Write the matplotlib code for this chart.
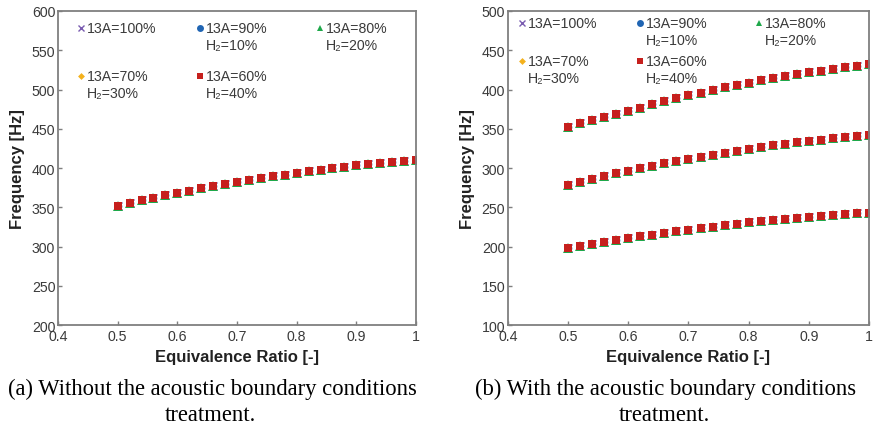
import matplotlib.pyplot as plt

plt.rcParams['font.family'] = ['Liberation Sans', 'DejaVu Sans']

# equivalence ratio
phi = [0.50, 0.52, 0.54, 0.56, 0.58, 0.60, 0.62, 0.64, 0.66, 0.68, 0.70, 0.72, 0.74,
       0.76, 0.78, 0.80, 0.82, 0.84, 0.86, 0.88, 0.90, 0.92, 0.94, 0.96, 0.98, 1.00]

# (a) without acoustic BC treatment - one mode
freq_a = [352.0, 355.5, 358.8, 362.0, 365.0, 368.0, 371.0, 374.0, 376.8, 379.5, 382.0,
          384.6, 387.0, 389.4, 391.7, 393.9, 396.0, 398.0, 400.0, 401.8, 403.5, 405.1,
          406.6, 408.0, 409.3, 410.5]

# (b) with acoustic BC treatment - three modes
freq_b_high = [352.6, 357.0, 361.1, 365.1, 369.1, 373.0, 377.0, 380.9, 385.0, 388.8, 392.5,
               396.0, 399.4, 402.6, 405.7, 408.6, 411.5, 414.2, 416.8, 419.3, 421.7, 424.0,
               426.1, 428.2, 430.2, 432.0]
freq_b_mid = [278.8, 282.5, 286.0, 289.5, 293.3, 296.6, 299.8, 303.0, 306.0, 309.0, 311.7,
              314.5, 317.1, 319.7, 322.2, 324.5, 326.7, 328.8, 330.9, 332.8, 334.6, 336.3,
              337.8, 339.2, 340.5, 341.9]
freq_b_low = [198.5, 201.0, 203.4, 205.7, 208.1, 210.6, 213.0, 215.2, 217.4, 219.5, 221.5,
              223.4, 225.4, 227.4, 229.2, 230.9, 232.6, 234.2, 235.6, 236.9, 238.2, 239.4,
              240.6, 241.6, 242.5, 243.3]

labels_l1 = ['13A=100%', '13A=90%', '13A=80%', '13A=70%', '13A=60%']
labels_l2 = ['', 'H\u2082=10%', 'H\u2082=20%', 'H\u2082=30%', 'H\u2082=40%']
markers = ['x', 'o', '^', 'D', 's']
colors = ['#7a5cb0', '#2065b3', '#1ea84a', '#f4b11c', '#c6201d']
msizes = [5.5, 5.5, 6.5, 4.5, 5.5]
leg_ms = [4.5, 5, 4.5, 3.5, 4.5]

fig = plt.figure(figsize=(8.74, 4.27), dpi=100)
ax1 = fig.add_axes([0.0664, 0.2365, 0.4096, 0.7354])
ax2 = fig.add_axes([0.5812, 0.2365, 0.4131, 0.7354])

gray = '#7f7f7f'
txt = '#3a3a3a'


def plot_mode(ax, y):
    for m, c, ms in zip(markers, colors, msizes):
        ax.plot(phi, y, linestyle='none', marker=m, color=c, markersize=ms,
                markeredgewidth=1.0 if m == 'x' else 0)


plot_mode(ax1, freq_a)
for y in (freq_b_high, freq_b_mid, freq_b_low):
    plot_mode(ax2, y)


def style(ax, ylim, yticks):
    ax.set_xlim(0.4, 1.0)
    ax.set_ylim(*ylim)
    ax.set_xticks([0.4, 0.5, 0.6, 0.7, 0.8, 0.9, 1.0])
    ax.set_xticklabels(['0.4', '0.5', '0.6', '0.7', '0.8', '0.9', '1'])
    ax.set_yticks(yticks)
    for s in ax.spines.values():
        s.set_color(gray)
        s.set_linewidth(1.3)
    ax.tick_params(direction='in', length=3, width=1, color=gray, labelsize=10.2,
                   labelcolor=txt)
    ax.tick_params(axis='x', pad=3)
    ax.tick_params(axis='y', pad=2)
    ax.set_xlabel('Equivalence Ratio [-]', fontsize=12, fontweight='bold', color='#222222',
                  labelpad=4)
    ax.set_ylabel('Frequency [Hz]', fontsize=12, fontweight='bold', color='#222222',
                  labelpad=5)


style(ax1, (200, 600), range(200, 601, 50))
style(ax2, (100, 500), range(100, 501, 50))


def key(ax, cols, rows, dy):
    # legend laid out row by row like the original
    pos = [(cols[0], rows[0]), (cols[1], rows[0]), (cols[2], rows[0]),
           (cols[0], rows[1]), (cols[1], rows[1])]
    for (x, y), m, c, ms, l1, l2 in zip(pos, markers, colors, leg_ms, labels_l1, labels_l2):
        ax.plot([x], [y], marker=m, color=c, markersize=ms, transform=ax.transAxes,
                markeredgewidth=1.0 if m == 'x' else 0, clip_on=False)
        ax.text(x + 0.017, y, l1, transform=ax.transAxes, fontsize=10.2, color=txt,
                va='center', ha='left')
        if l2:
            ax.text(x + 0.017, y - dy, l2, transform=ax.transAxes, fontsize=10.2, color=txt,
                    va='center', ha='left')


key(ax1, (0.064, 0.397, 0.732), (0.946, 0.793), 0.054)
key(ax2, (0.039, 0.366, 0.695), (0.962, 0.841), 0.054)

cap = dict(family='Liberation Serif', fontsize=16.3, ha='center', va='baseline')
fig.text(0.243, 0.075, '(a) Without the acoustic boundary conditions', **cap)
fig.text(0.241, 0.015, 'treatment.', **cap)
fig.text(0.762, 0.075, '(b) With the acoustic boundary conditions', **cap)
fig.text(0.760, 0.015, 'treatment.', **cap)

fig.savefig('out.png', dpi=100)
